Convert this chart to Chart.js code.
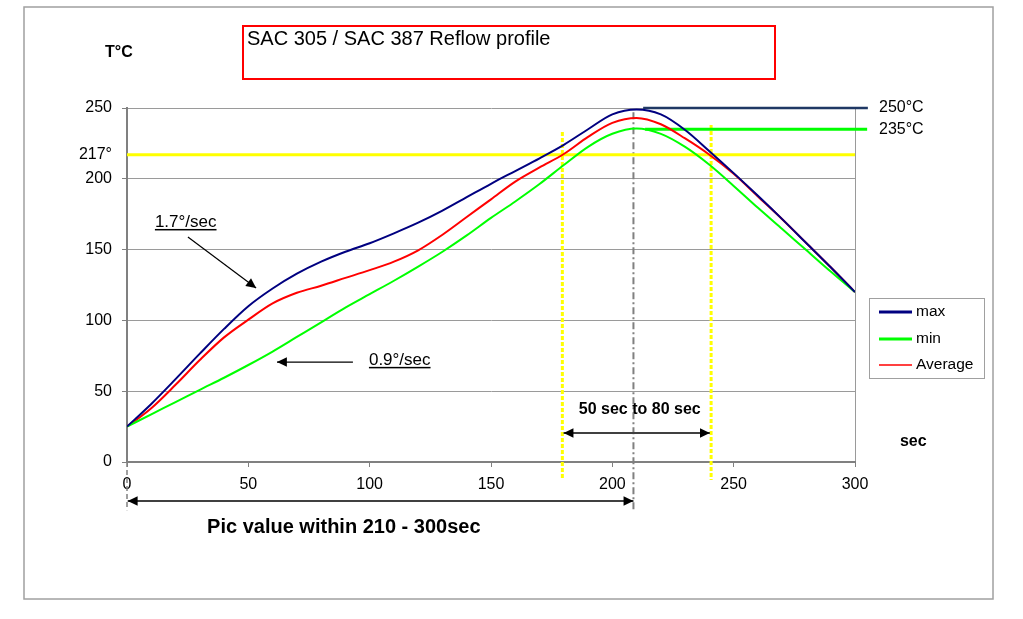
<!DOCTYPE html>
<html lang="en">
<head>
<meta charset="UTF-8">
<title>SAC 305 / SAC 387 Reflow profile</title>
<style>
    body { margin: 0; background: #fff; }
    #box { width: 1023px; height: 619px; }
</style>
</head>
<body>
<div id="box"><canvas id="reflow"></canvas></div>
<script src="https://cdn.jsdelivr.net/npm/chart.js"></script>
<script>
    // time axis (sec) and the three profile curves (°C)
    var seconds = [0, 10, 20, 30, 40, 50, 60, 70, 80, 90, 100, 110, 120, 130, 140, 150,
                   160, 170, 180, 190, 200, 210, 220, 230, 240, 250, 260, 270, 280, 290, 300];
    var maxTemp = [25, 41, 58.5, 76.5, 94, 110, 122.5, 133, 141.5, 148.5, 154.5, 161.5, 169, 177.5, 187, 196.5,
                   205.5, 214.5, 224, 235, 245.5, 249, 245.5, 234.5, 219.5, 204, 188, 171.5, 154.5, 137.5, 120];
    var minTemp = [25, 33.7, 42.3, 51, 59.5, 68.5, 78, 88.3, 98.6, 109, 118.5, 128, 138, 148.5, 160, 172.4,
                   184, 196.3, 209.7, 222.6, 231.8, 235.5, 231.7, 222.5, 209.9, 195, 179.5, 164.5, 149.5, 134.5, 120];
    var avgTemp = [25, 38, 54.5, 72, 88, 100.5, 112, 119.5, 124.5, 130, 135.5, 141.5, 149.5, 160.5, 173, 185.5,
                   198, 208, 217.5, 229.6, 239.5, 243, 238.5, 228.5, 217, 203.5, 187.5, 171.5, 154.5, 137.5, 120];

    var yTicks = [0, 50, 100, 150, 200, 250];
    var liquidus = 217;
    var peakMax = 250;
    var peakMin = 235;
    var windowStart = 179.4;
    var windowEnd = 240.7;
    var peakTime = 208.7;

    function pts(xs, ys) {
        var out = [];
        for (var i = 0; i < xs.length; i++) {
            out.push({ x: xs[i], y: ys[i] });
        }
        return out;
    }

    function refLine(a, b, color, width, dash) {
        return {
            data: [a, b],
            borderColor: color,
            borderWidth: width,
            borderDash: dash || [],
            pointRadius: 0,
            clip: false,
            order: 2
        };
    }

    var datasets = [
        { label: "max", data: pts(seconds, maxTemp), borderColor: "#000080", borderWidth: 2,
          pointRadius: 0, cubicInterpolationMode: "monotone", order: 0 },
        { label: "min", data: pts(seconds, minTemp), borderColor: "#00ff00", borderWidth: 2,
          pointRadius: 0, cubicInterpolationMode: "monotone", order: 0 },
        { label: "Average", data: pts(seconds, avgTemp), borderColor: "#ff0000", borderWidth: 2,
          pointRadius: 0, cubicInterpolationMode: "monotone", order: 0 },
        refLine({ x: 0, y: liquidus }, { x: 300, y: liquidus }, "#ffff00", 3),
        refLine({ x: 212.7, y: peakMax }, { x: 305.3, y: peakMax }, "#1f3864", 2.5),
        refLine({ x: 213.5, y: peakMin }, { x: 305, y: peakMin }, "#00ff00", 3),
        refLine({ x: windowStart, y: 233 }, { x: windowStart, y: -12.7 }, "#ffff00", 3, [4, 2]),
        refLine({ x: windowEnd, y: 238 }, { x: windowEnd, y: -12.7 }, "#ffff00", 3, [4, 2]),
        refLine({ x: peakTime, y: 247 }, { x: peakTime, y: -34 }, "#808080", 2, [7, 3, 2, 3]),
        refLine({ x: 0, y: 0 }, { x: 0, y: -34 }, "#808080", 1.5, [5, 3])
    ];

    function arrowHead(ctx, x1, y1, x2, y2, size) {
        var a = Math.atan2(y2 - y1, x2 - x1);
        ctx.beginPath();
        ctx.moveTo(x2, y2);
        ctx.lineTo(x2 - size * Math.cos(a - 0.45), y2 - size * Math.sin(a - 0.45));
        ctx.lineTo(x2 - size * Math.cos(a + 0.45), y2 - size * Math.sin(a + 0.45));
        ctx.closePath();
        ctx.fill();
    }

    function arrow(ctx, x1, y1, x2, y2, both) {
        ctx.beginPath();
        ctx.moveTo(x1, y1);
        ctx.lineTo(x2, y2);
        ctx.stroke();
        arrowHead(ctx, x1, y1, x2, y2, 11);
        if (both) arrowHead(ctx, x2, y2, x1, y1, 11);
    }

    function underlined(ctx, text, x, y) {
        ctx.fillText(text, x, y);
        var w = ctx.measureText(text).width;
        ctx.fillRect(x, y + 2, w, 1.5);
    }

    var decor = {
        id: "decor",
        afterDraw: function (chart) {
            var ctx = chart.ctx;
            var xs = chart.scales.x, ys = chart.scales.y;
            function X(v) { return xs.getPixelForValue(v); }
            function Y(v) { return ys.getPixelForValue(v); }
            var font = "'Liberation Sans', Arial, sans-serif";

            ctx.save();
            // outer frame
            ctx.strokeStyle = "#a0a0a0";
            ctx.lineWidth = 1.5;
            ctx.strokeRect(24, 7, 969, 592);

            // title box
            ctx.strokeStyle = "#ff0000";
            ctx.lineWidth = 2;
            ctx.strokeRect(243, 26, 532, 53);
            ctx.fillStyle = "#000";
            ctx.textBaseline = "alphabetic";
            ctx.textAlign = "left";
            ctx.font = "20px " + font;
            ctx.fillText("SAC 305 / SAC 387 Reflow profile", 247, 45);

            ctx.font = "bold 16px " + font;
            ctx.fillText("T°C", 105, 57);
            ctx.fillText("sec", X(318.5), Y(11.3));

            // peak labels
            ctx.font = "16px " + font;
            ctx.textBaseline = "middle";
            ctx.fillText("250°C", X(309.9), Y(peakMax));
            ctx.fillText("235°C", X(309.9), Y(peakMin));

            // slope notes
            ctx.textBaseline = "alphabetic";
            ctx.font = "17px " + font;
            ctx.fillStyle = "#000";
            underlined(ctx, "1.7°/sec", X(11.5), Y(166));
            underlined(ctx, "0.9°/sec", X(99.7), Y(68.6));
            ctx.strokeStyle = "#000";
            ctx.lineWidth = 1.2;
            arrow(ctx, X(25.1), Y(158.9), X(53.2), Y(122.9), false);
            arrow(ctx, X(93.1), Y(70.6), X(61.8), Y(70.6), false);

            // time window arrows
            ctx.strokeStyle = "#404040";
            ctx.lineWidth = 2;
            arrow(ctx, X(windowStart + 0.5), Y(20.5), X(windowEnd - 0.5), Y(20.5), true);
            arrow(ctx, X(0.3), Y(-27.5), X(peakTime), Y(-27.5), true);

            ctx.font = "bold 16px " + font;
            ctx.textAlign = "center";
            ctx.fillText("50 sec to 80 sec", X(211.3), Y(33.9), 129);
            ctx.textAlign = "left";
            ctx.font = "bold 20px " + font;
            ctx.fillText("Pic value within 210 - 300sec", X(33), Y(-50), 280);

            // legend
            ctx.strokeStyle = "#a0a0a0";
            ctx.lineWidth = 1;
            ctx.strokeRect(869.5, 298.5, 115, 80);
            ctx.font = "15.5px " + font;
            ctx.textBaseline = "middle";
            var rowY = [312, 339, 365];
            for (var i = 0; i < 3; i++) {
                var ds = chart.data.datasets[i];
                ctx.strokeStyle = ds.borderColor;
                ctx.lineWidth = i === 2 ? 1.5 : 3;
                ctx.beginPath();
                ctx.moveTo(879, rowY[i]);
                ctx.lineTo(912, rowY[i]);
                ctx.stroke();
                ctx.fillStyle = "#000";
                ctx.fillText(ds.label, 916, rowY[i]);
            }
            ctx.restore();
        }
    };

    Chart.defaults.font.family = "'Liberation Sans', Arial, sans-serif";
    Chart.defaults.color = "#000";

    new Chart(document.getElementById("reflow"), {
        type: "line",
        data: { datasets: datasets },
        options: {
            responsive: true,
            maintainAspectRatio: false,
            animation: false,
            layout: { padding: { left: 0, top: 108, right: 168, bottom: 0 } },
            plugins: { legend: { display: false }, tooltip: { enabled: false } },
            scales: {
                x: {
                    type: "linear",
                    min: 0,
                    max: 300,
                    ticks: { stepSize: 50, font: { size: 16 }, padding: 8, maxRotation: 0 },
                    grid: {
                        color: function (c) { return c.tick && c.tick.value === 300 ? "#9a9a9a" : "rgba(0,0,0,0)"; },
                        tickColor: "#808080",
                        tickLength: 5
                    },
                    border: { color: "#808080", width: 2 },
                    afterFit: function (s) { s.height = 157; }
                },
                y: {
                    min: 0,
                    max: 250,
                    afterBuildTicks: function (s) {
                        s.ticks = yTicks.concat([liquidus]).sort(function (a, b) { return a - b; })
                            .map(function (v) { return { value: v }; });
                    },
                    ticks: {
                        font: { size: 16 },
                        padding: 10,
                        callback: function (v) { return v === liquidus ? "217°" : v; }
                    },
                    grid: {
                        color: function (c) { return c.tick && c.tick.value === liquidus ? "rgba(0,0,0,0)" : "#9a9a9a"; },
                        tickColor: function (c) { return c.tick && c.tick.value === liquidus ? "rgba(0,0,0,0)" : "#808080"; },
                        tickLength: 5
                    },
                    border: { color: "#808080", width: 2 },
                    afterFit: function (s) { s.width = 127; }
                }
            }
        },
        plugins: [decor]
    });
</script>
</body>
</html>
